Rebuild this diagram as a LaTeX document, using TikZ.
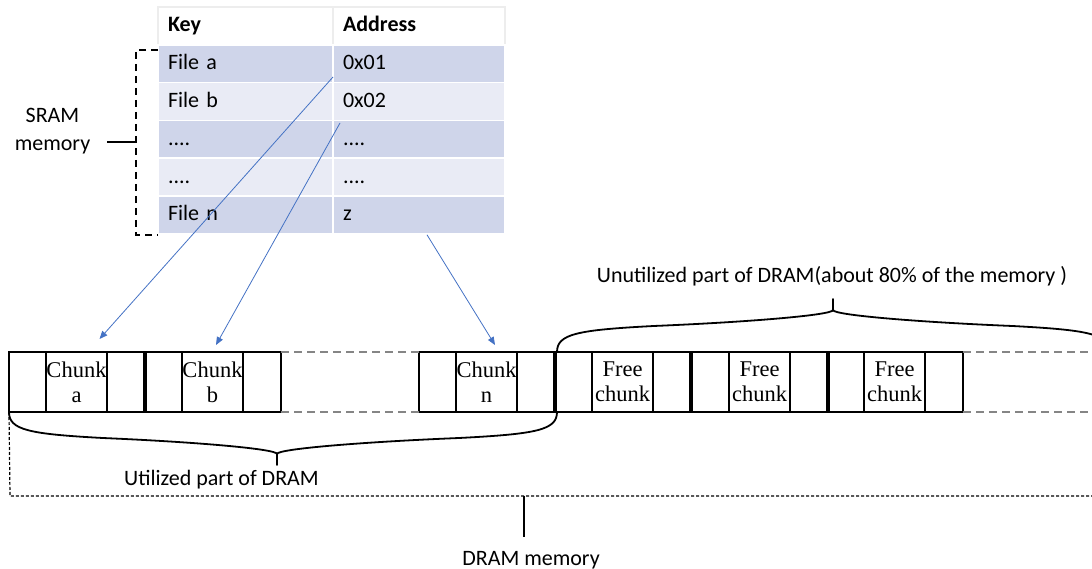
\documentclass[tikz,border=0pt]{standalone}
\usepackage{fontspec}
\newfontfamily\labelfont{Carlito}
\newfontfamily\chunkfont{Liberation Serif}
\usetikzlibrary{arrows.meta,calc}

\definecolor{rowdark}{HTML}{CFD5EA}
\definecolor{rowlight}{HTML}{E9EBF5}
\definecolor{linkblue}{HTML}{4472C4}
\definecolor{gapgray}{HTML}{858585}

\tikzset{
  cell/.style={rectangle, draw, line width=1.8pt, minimum height=60pt,
    inner sep=0pt, outer sep=0pt},
  side/.style={cell, minimum width=37pt},
  core/.style={cell, minimum width=61pt, align=center,
    font=\chunkfont\fontsize{22.5}{25}\selectfont},
  seam/.style={line width=3.6pt},
  tcell/.style={rectangle, draw=white, line width=1.5pt, anchor=north west,
    minimum height=37.8pt, inner xsep=10pt, inner ysep=0pt, outer sep=0pt,
    text height=15pt, text depth=3pt, align=left,
    font=\labelfont\fontsize{22}{26}\selectfont},
  keycol/.style={tcell, text width=155pt},
  addrcol/.style={tcell, text width=152pt},
  head/.style={fill=white, draw=black!7, font=\labelfont\bfseries\fontsize{22}{26}\selectfont},
  label/.style={font=\labelfont\fontsize{22}{28}\selectfont, inner sep=0pt},
  link/.style={draw=linkblue, line width=0.8pt,
    -{Triangle[length=8pt,width=6.5pt]}},
  gapline/.style={draw=gapgray, line width=1.8pt, dash pattern=on 8pt off 5pt},
  sramline/.style={line width=1.8pt, dash pattern=on 7pt off 5pt},
  dramline/.style={line width=1.2pt, dash pattern=on 3pt off 2pt},
  bracepath/.style={line width=1.8pt, line cap=round},
}

% one memory chunk: three cells, the middle one labelled
\newcommand\chunkrow[3]{%
  \node[side] (#1l) at (#2+18.5,382) {};
  \node[core] (#1m) at (#2+67.5,382) {#3};
  \node[side, minimum width=38pt] (#1r) at (#2+117,382) {};
}

% curly brace: left end, tip, right end, base line, direction (1 down, -1 up)
\newcommand\membrace[5]{%
  \begin{scope}[shift={(0,#4)}, yscale=#5]
    \draw[bracepath]
      (#1,0) .. controls (#1,18) and (#1+20,22) .. ({#1+0.35*(#2-#1)},26)
             .. controls ({#2-0.3*(#2-#1)},30) and (#2,37) .. (#2,42) -- (#2,53)
      (#2,42) .. controls (#2,37) and ({#2+0.3*(#3-#2)},30) .. ({#3-0.35*(#3-#2)},26)
             .. controls (#3-20,22) and (#3,18) .. (#3,0);
  \end{scope}}

\begin{document}
\begin{tikzpicture}[x=1pt, y=-1pt]
\useasboundingbox (0,0) rectangle (1092,569);
\clip (0,0) rectangle (1092,569);

% ---- SRAM lookup table ----
\node[keycol, head] (k0) at (158,7) {Key};
\node[addrcol, head] (d0) at (333,7) {Address};
\node[keycol, fill=rowdark]  (k1) at (158,44.8)  {File a};
\node[addrcol, fill=rowdark] (d1) at (333,44.8)  {0x01};
\node[keycol, fill=rowlight]  (k2) at (158,82.6)  {File b};
\node[addrcol, fill=rowlight] (d2) at (333,82.6)  {0x02};
\node[keycol, fill=rowdark]  (k3) at (158,120.4) {....};
\node[addrcol, fill=rowdark] (d3) at (333,120.4) {....};
\node[keycol, fill=rowlight]  (k4) at (158,158.2) {....};
\node[addrcol, fill=rowlight] (d4) at (333,158.2) {....};
\node[keycol, fill=rowdark]  (k5) at (158,196)   {File n};
\node[addrcol, fill=rowdark] (d5) at (333,196)   {z};

% SRAM bracket and label
\coordinate (st) at (136,50);
\coordinate (sb) at (136,235);
\coordinate (sm) at (136,142);
\coordinate (sl) at (107,142);
\draw[sramline] (158,50) -- (st) -- (sb) -- (158,235);
\draw[line width=1.4pt] (sl) -- (sm);
\node[label, align=center] (sram) at (52.5,131) {SRAM\\memory};

% ---- DRAM chunks ----
\chunkrow{a}{9}{Chunk\\a}
\chunkrow{b}{145}{Chunk\\b}
\chunkrow{n}{419}{Chunk\\n}
\chunkrow{f1}{555}{Free\\chunk}
\chunkrow{f2}{692}{Free\\chunk}
\chunkrow{f3}{827}{Free\\chunk}

\draw[seam] (ar.north east) -- (ar.south east);
\draw[seam] (nr.north east) -- (nr.south east);
\draw[seam] (f1r.north east) -- (f1r.south east);
\draw[seam] (f2r.north east) -- (f2r.south east);

% gaps in the chunk row
\coordinate (et) at (1092,352);
\coordinate (eb) at (1092,412);
\draw[gapline] (br.north east) -- (nl.north west);
\draw[gapline] (br.south east) -- (nl.south west);
\draw[gapline] (f3r.north east) -- (et);
\draw[gapline] (f3r.south east) -- (eb);

% ---- braces ----
\membrace{9}{277}{557}{412}{1}
\membrace{557}{833}{1109}{352}{-1}
\node[label, anchor=base] (used) at (221.5,485) {Utilized part of DRAM};
\node[label, anchor=base] (free) at (832,283) {Unutilized part of DRAM(about 80\% of the memory )};

% ---- DRAM memory outline ----
\coordinate (dl) at (10,496);
\coordinate (dr) at (1092,496);
\coordinate (dt) at (524,496);
\coordinate (dtb) at (524,537);
\draw[dramline] (al.south west) -- (dl) -- (dr);
\draw[line width=1.3pt] (dt) -- (dtb);
\node[label, anchor=base] (dram) at (531,565) {DRAM memory};

% ---- address links ----
\draw[link] ($(d1.south west)+(0,-5.6)$) -- ($(am.north)+(23,-13)$);
\draw[link] ($(d3.north west)+(7,2.6)$) -- ($(bm.north)+(3.5,-7)$);
\draw[link] ($(d5.south west)+(94,1)$) -- ($(nm.north)+(8.5,-7)$);
\end{tikzpicture}
\end{document}
